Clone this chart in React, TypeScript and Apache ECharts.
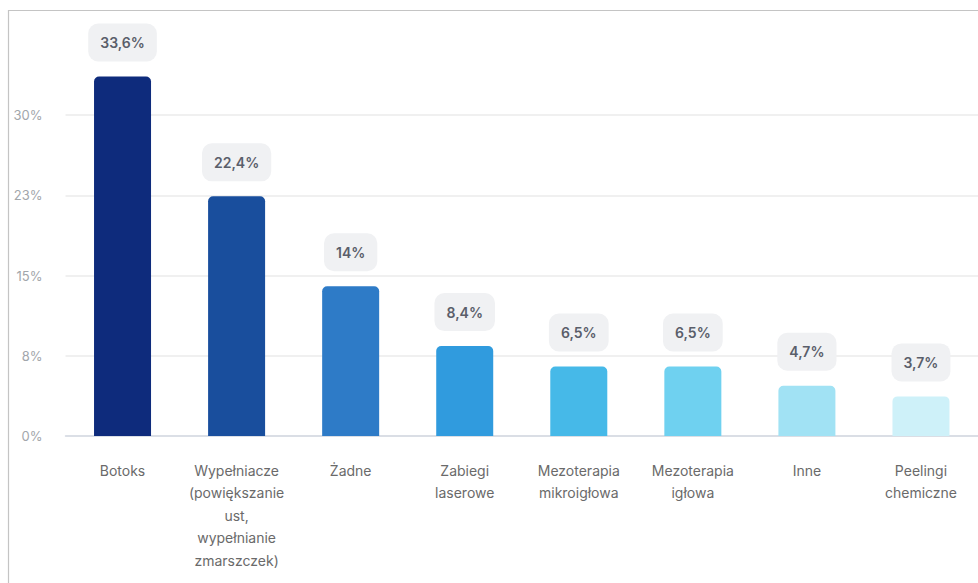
import React, { useEffect, useRef } from "react";
import * as echarts from "echarts";

const categories = [
  "Botoks",
  "Wypełniacze\n(powiększanie\nust,\nwypełnianie\nzmarszczek)",
  "Żadne",
  "Zabiegi\nlaserowe",
  "Mezoterapia\nmikroigłowa",
  "Mezoterapia\nigłowa",
  "Inne",
  "Peelingi\nchemiczne",
];
const values = [33.6, 22.4, 14, 8.4, 6.5, 6.5, 4.7, 3.7];
const barColors = [
  "#0e2b7c",
  "#194e9d",
  "#2e7bc7",
  "#309bde",
  "#46b9e8",
  "#6fd1f0",
  "#a1e2f4",
  "#cef1f9",
];
const yTicks = [0, 7.5, 15, 22.5, 30];

export default function App() {
  const ref = useRef<HTMLDivElement>(null);
  useEffect(() => {
    if (!ref.current) return;
    const chart = echarts.init(ref.current, undefined, { renderer: "svg" });
    chart.setOption({
      animation: false,
      backgroundColor: "#ffffff",
      textStyle: { fontFamily: "Inter" },
      grid: { left: 65.5, top: 115, width: 920, height: 321, containLabel: false },
      xAxis: {
        type: "category",
        data: categories,
        axisTick: { show: false },
        axisLine: { show: true, lineStyle: { color: "#d3d9e2", width: 1.5 } },
        axisLabel: {
          interval: 0,
          margin: 23,
          color: "#6a6a6a",
          fontSize: 14,
          lineHeight: 22.5,
          fontFamily: "Inter",
        },
      },
      yAxis: {
        type: "value",
        min: yTicks[0],
        max: yTicks[yTicks.length - 1],
        interval: 7.5,
        axisLine: { show: false },
        axisTick: { show: false },
        splitLine: { lineStyle: { color: "#ebebeb", width: 1.5 } },
        axisLabel: {
          margin: 23,
          color: "#a2a6ab",
          fontSize: 13,
          fontFamily: "Inter",
          formatter: (v: number) => Math.round(v) + "%",
        },
      },
      series: [
        {
          type: "bar",
          clip: false,
          barWidth: 57,
          data: values.map((v, i) => ({
            value: v,
            itemStyle: { color: barColors[i], borderRadius: [5, 5, 0, 0] },
          })),
          label: {
            show: true,
            position: "top",
            distance: 15,
            formatter: (p: any) => String(p.value).replace(".", ",") + "%",
            color: "#5a5e6a",
            fontSize: 14,
            fontWeight: 600,
            fontFamily: "Inter",
            backgroundColor: "#f0f1f3",
            borderRadius: 10,
            padding: [12, 12],
          },
        },
      ],
      graphic: [
        {
          type: "polyline",
          shape: { points: [[8.5, 583], [8.5, 10.5], [978, 10.5]] },
          style: { stroke: "#c4c4c4", lineWidth: 1.2, fill: "none" },
          silent: true,
        },
      ],
    });
    return () => chart.dispose();
  }, []);
  return (
    <div
      ref={ref}
      style={{ position: "fixed", left: 0, top: 0, width: 978, height: 583 }}
    />
  );
}
